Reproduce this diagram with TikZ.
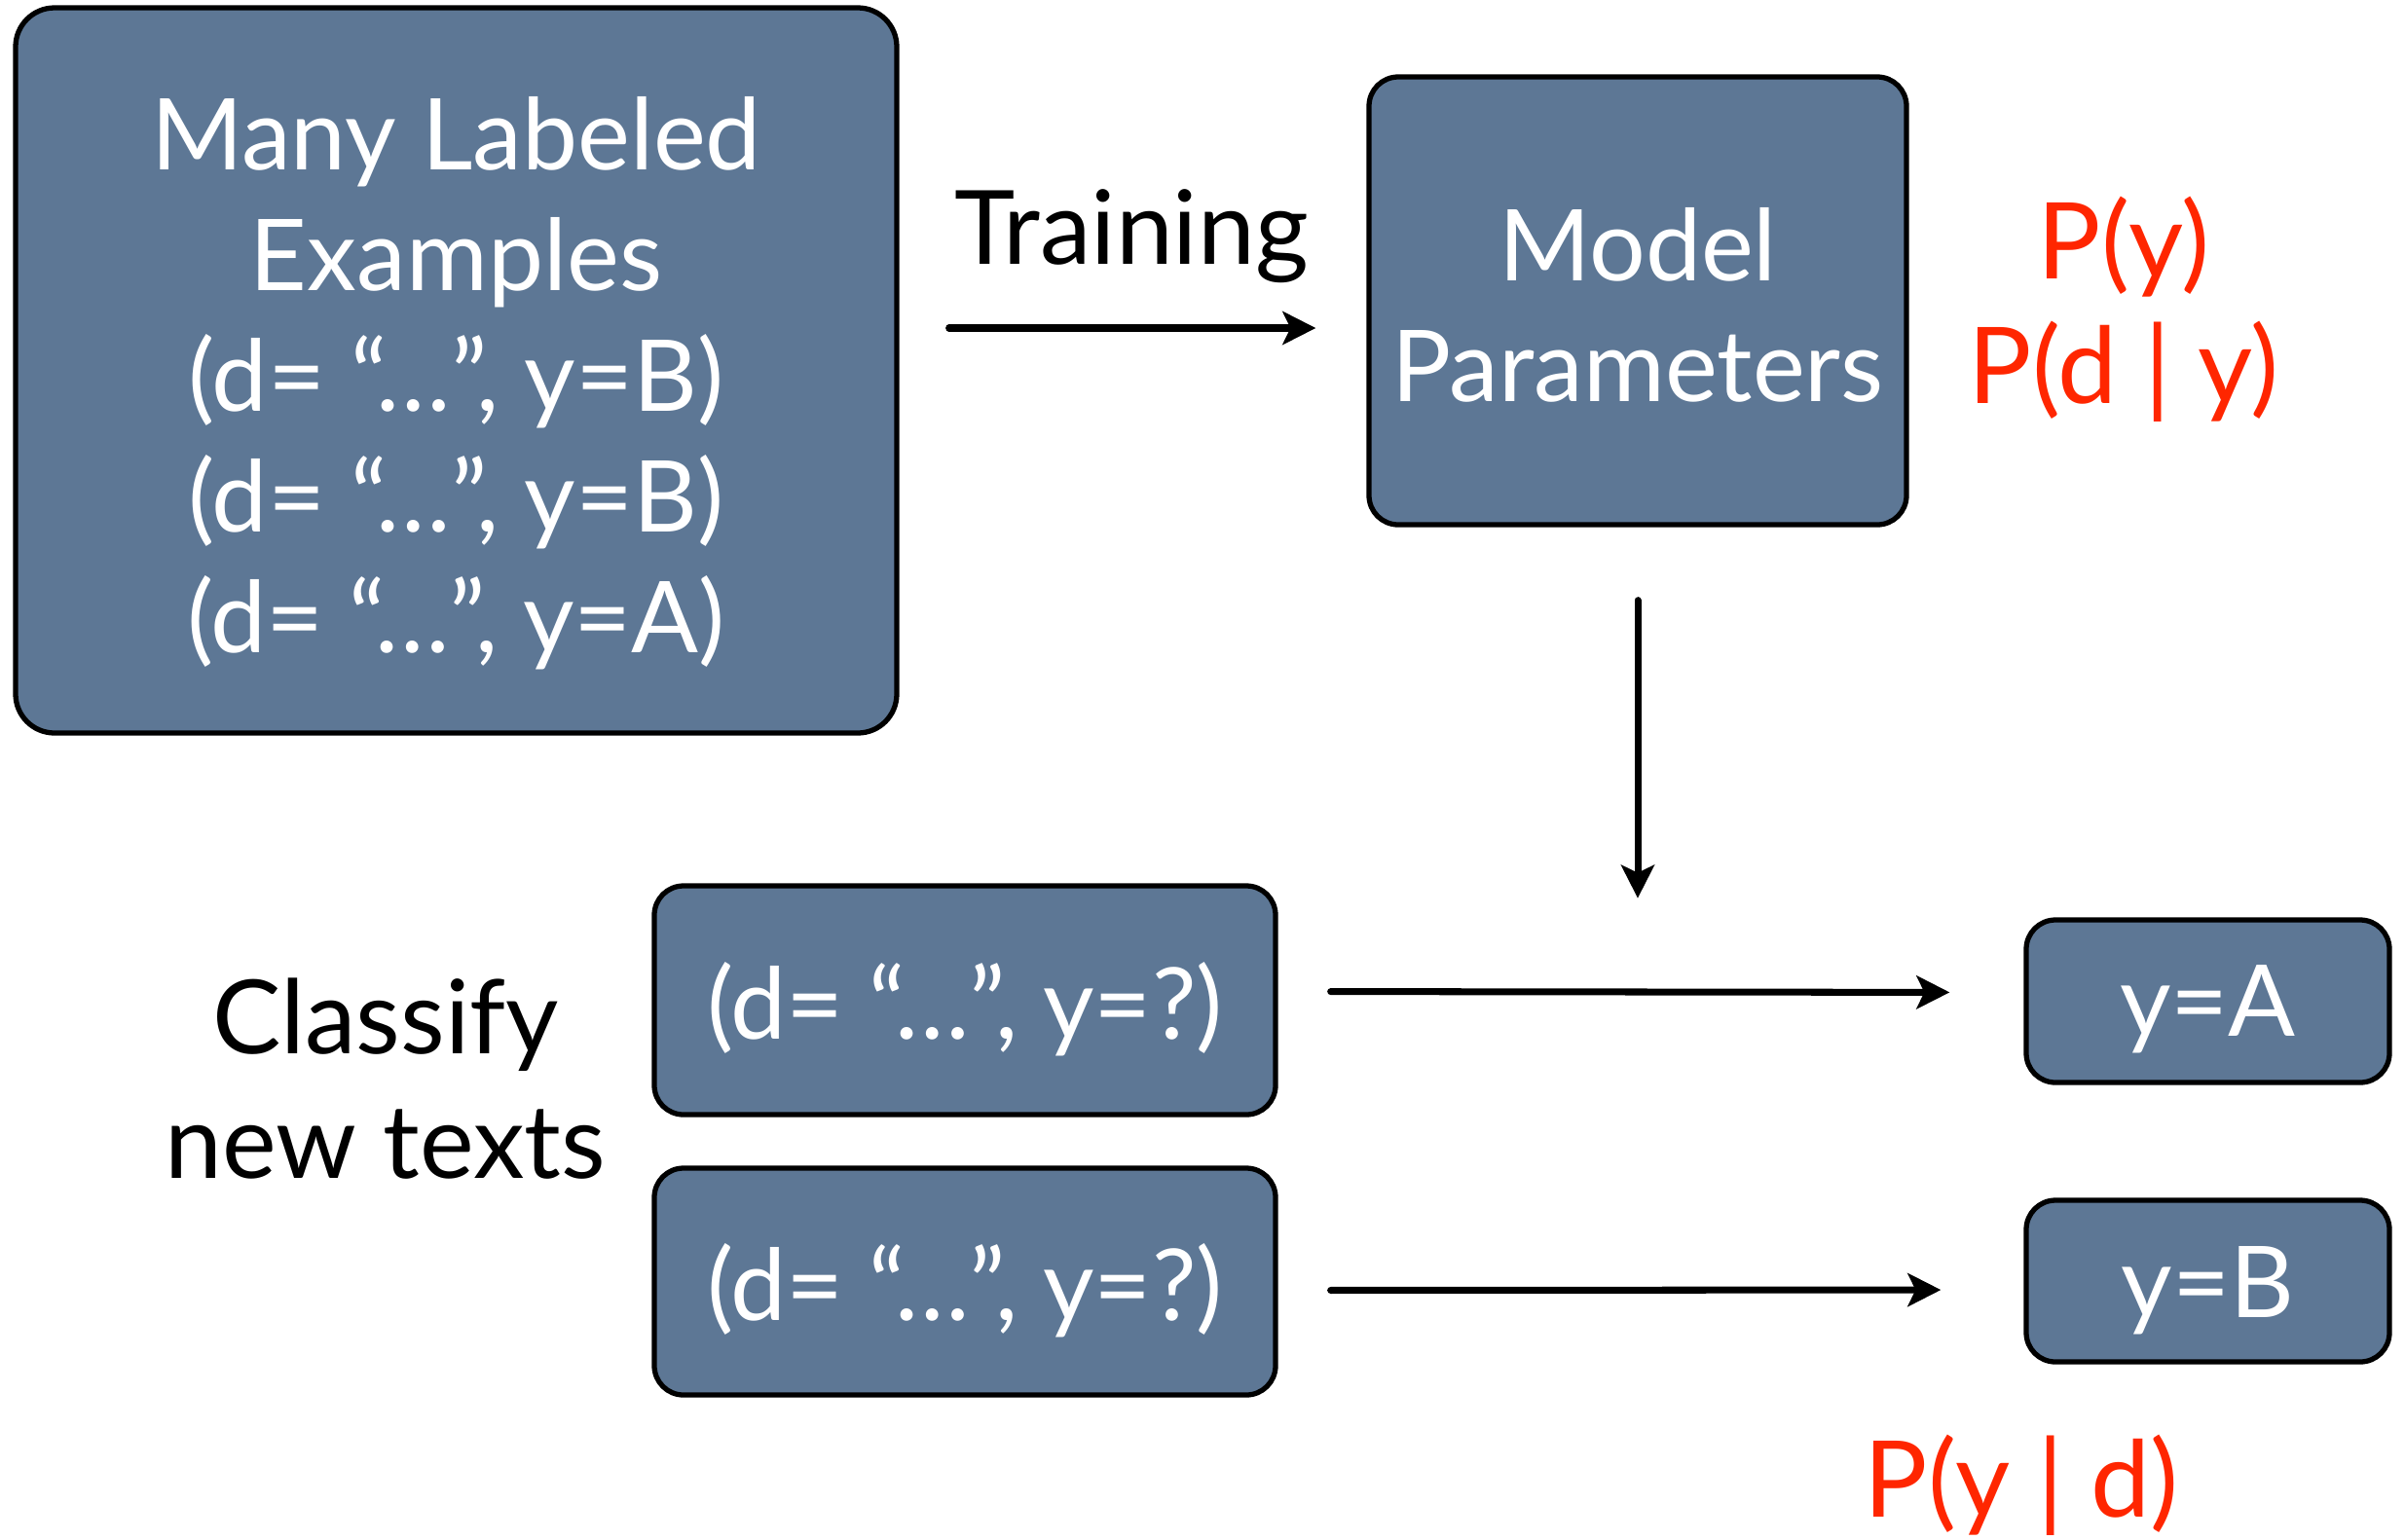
\documentclass[tikz,border=0pt]{standalone}
\usepackage{fontspec}
\setmainfont{Lato}
\usetikzlibrary{arrows.meta}
\definecolor{slate}{RGB}{93,119,149}
\definecolor{probred}{RGB}{255,38,0}
\begin{document}
\begin{tikzpicture}[line join=round, line cap=round, >={Stealth[length=3.4mm,width=3.4mm,inset=0.8mm]},
		box/.style={draw=black, line width=1.5pt, fill=slate, rounded corners=3mm, text=white, align=center, inner sep=0pt, font=\fontsize{29}{35.3}\selectfont},
		onebox/.style={box, text height=23pt, text depth=0pt},
		plain/.style={align=center, font=\fontsize{30}{36.5}\selectfont},
		prob/.style={plain, text=probred, font=\fontsize{31}{36.5}\selectfont},
		link/.style={->, line width=2pt}]
		\useasboundingbox (0,0) rectangle (24.7,-15.81);
		% boxes
		\node[box, rounded corners=4mm, minimum width=9.05cm, minimum height=7.45cm] (data) at (4.685,-3.805) {\rule{0pt}{29pt}Many Labeled\\Examples\\(d= “…”, y=B)\\(d= “…”, y=B)\\(d= “…”, y=A)};
		\node[box, minimum width=5.52cm, minimum height=4.6cm] (params) at (16.82,-3.09) {\rule{0pt}{24pt}Model\\Parameters};
		\node[onebox, minimum width=6.38cm, minimum height=2.35cm] (new1) at (9.91,-10.275) {(d= “…”, y=?)};
		\node[onebox, minimum width=6.38cm, minimum height=2.33cm] (new2) at (9.91,-13.165) {(d= “…”, y=?)};
		\node[onebox, text height=20.5pt, minimum width=3.73cm, minimum height=1.67cm] (ya) at (22.675,-10.285) {y=A};
		\node[onebox, text height=21.5pt, minimum width=3.73cm, minimum height=1.66cm] (yb) at (22.675,-13.16) {y=B};
		% labels
		\node[plain] (train) at (11.62,-2.43) {Training};
		\node[plain] (classify) at (3.96,-11.08) {Classify\\new texts};
		\node[prob] (joint) at (21.81,-3.18) {P(y)\\P(d | y)};
		\node[prob] (post) at (20.76,-15.26) {P(y | d)};
		% arrows
		\coordinate (t) at (0,-3.37);
		\draw[link] ([xshift=5.1mm]data.east |- t) -- ([xshift=-5.2mm]params.west |- t);
		\draw[link] ([yshift=-7.5mm]params.south) -- ++(0,-3.06);
		\draw[link, shorten <=5.4mm, shorten >=7.6mm] ([yshift=0.9mm]new1.east) -- ([yshift=0.9mm]ya.west);
		\draw[link, shorten <=5.4mm, shorten >=8.5mm] ([yshift=-0.9mm]new2.east) -- ([yshift=-0.9mm]yb.west);
	\end{tikzpicture}
\end{document}
